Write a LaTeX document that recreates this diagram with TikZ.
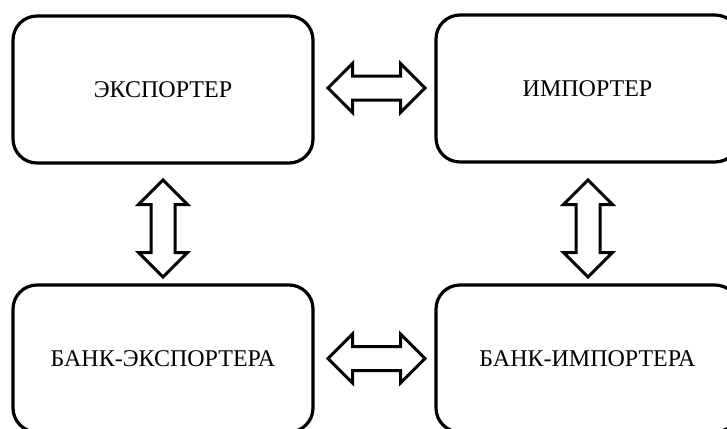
\documentclass[tikz,border=0pt]{standalone}
\usepackage{fontspec}
\setmainfont{Liberation Serif}
\usetikzlibrary{calc}
\tikzset{
  box/.style={draw=black, line width=3.2pt, rounded corners=24pt, minimum width=300pt, minimum height=147pt, inner sep=0pt, font=\fontsize{24}{27}\selectfont},
  arr/.style={draw=black, line width=3pt, fill=white, line join=miter},
  dblarr/.pic={\path[arr] (-48.5,0) -- (-24,24.5) -- (-24,12) -- (24,12) -- (24,24.5) -- (48.5,0) -- (24,-24.5) -- (24,-12) -- (-24,-12) -- (-24,-24.5) -- cycle;}
}
\begin{document}
\begin{tikzpicture}[x=1pt,y=-1pt]
\useasboundingbox (0,0) rectangle (727,428);
\node[box] (exp) at (163,89.5) {ЭКСПОРТЕР};
\node[box, minimum width=303pt] (imp) at (587.5,88.5) {ИМПОРТЕР};
\node[box] (bexp) at (163,358.5) {БАНК-ЭКСПОРТЕРА};
\node[box, minimum width=303pt] (bimp) at (587.5,358.5) {БАНК-ИМПОРТЕРА};
\pic at ($(exp.east)!0.5!(imp.west)+(2,-1)$) {dblarr};
\pic at ($(bexp.east)!0.5!(bimp.west)+(2,0)$) {dblarr};
\pic[rotate=90] at ($(exp.south)!0.5!(bexp.north)+(0,4.5)$) {dblarr};
\pic[rotate=90] at ($(imp.south)!0.5!(bimp.north)+(0.5,5)$) {dblarr};
\end{tikzpicture}
\end{document}
